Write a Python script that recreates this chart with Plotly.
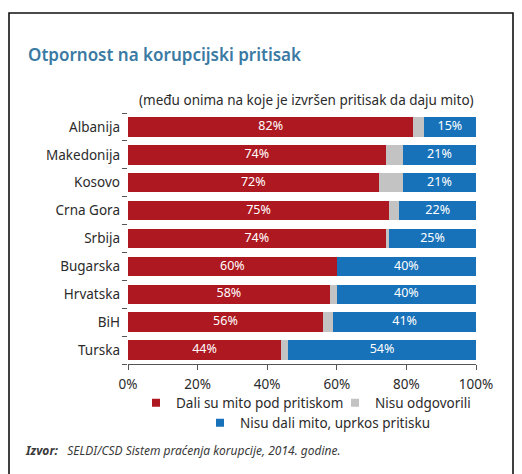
import plotly.graph_objects as go

countries = ["Albanija", "Makedonija", "Kosovo", "Crna Gora", "Srbija",
             "Bugarska", "Hrvatska", "BiH", "Turska"]
gave_bribe = [82, 74, 72, 75, 74, 60, 58, 56, 44]
no_answer = [3, 5, 7, 3, 1, 0, 2, 3, 2]
refused = [15, 21, 21, 22, 25, 40, 40, 41, 54]
series_names = ["Dali su mito pod pritiskom", "Nisu odgovorili",
                "Nisu dali mito, uprkos pritisku"]
x_ticks = [0, 20, 40, 60, 80, 100]
x_tick_labels = ["0%", "20%", "40%", "60%", "80%", "100%"]

RED = "#ae1820"
GRAY = "#c3c3c3"
BLUE = "#1872b9"
FONT = "Noto Sans"
TXT = "#2b2b2b"

# the page body has an 8px margin; figure is sized so it ends at the window edge
OFF = 8
W, H = 522, 474
ML, MR, MT, MB = 128, 46, 113, 110
PW, PH = W - ML - MR, H - MT - MB
FW, FH = W - OFF, H - OFF


def px(x):
    return (x - ML) / PW


def py(y):
    return (H - MB - y) / PH


fig = go.Figure()
for vals, color, name, lg in [(gave_bribe, RED, series_names[0], "legend"),
                              (no_answer, GRAY, series_names[1], "legend3"),
                              (refused, BLUE, series_names[2], "legend2")]:
    fig.add_trace(go.Bar(
        y=countries, x=vals, orientation="h", name=name,
        marker=dict(color=color, line=dict(width=0)), textposition="none",
        showlegend=False, legendgroup=name,
    ))
    # small square legend key for the series
    fig.add_trace(go.Scatter(
        x=[None], y=[None], mode="markers", name=name, legendgroup=name,
        marker=dict(symbol="square", size=8, color=color), legend=lg,
        hoverinfo="skip",
    ))

# value labels centred on the red and blue segments
red_mid = [g / 2 for g in gave_bribe]
blue_mid = [g + n + r / 2 for g, n, r in zip(gave_bribe, no_answer, refused)]
fig.add_trace(go.Scatter(
    x=red_mid + blue_mid, y=countries + countries, mode="text",
    text=[f"{v}%" for v in gave_bribe + refused],
    textfont=dict(color="white", size=12.5, family=FONT),
    showlegend=False, hoverinfo="skip",
))

leg = dict(orientation="h", xref="paper", yref="paper", xanchor="left", yanchor="middle",
           font=dict(size=13.5, color=TXT), bgcolor="rgba(0,0,0,0)", itemwidth=30)

fig.update_layout(
    width=FW, height=FH,
    margin=dict(l=ML - OFF, r=MR, t=MT - OFF, b=MB),
    barmode="stack", bargap=0.3,
    paper_bgcolor="white", plot_bgcolor="white",
    font=dict(family=FONT, size=13.5, color=TXT),
    xaxis=dict(range=[0, 100], tickvals=x_ticks, ticktext=x_tick_labels,
               showgrid=False, zeroline=False, showline=True, linecolor="#555555",
               linewidth=1, ticks="outside", ticklen=5, tickcolor="#555555",
               ticklabelstandoff=3,
               tickfont=dict(size=13.5, color=TXT), fixedrange=True),
    yaxis=dict(categoryorder="array", categoryarray=countries[::-1],
               showgrid=False, zeroline=False, showline=False, automargin=False,
               ticks="outside", tickson="boundaries", ticklen=5, tickcolor="#555555",
               tickfont=dict(size=13.5, color=TXT), ticksuffix="  "),
    legend=dict(leg, x=px(136), y=py(403)),
    legend3=dict(leg, x=px(335), y=py(403)),
    legend2=dict(leg, x=px(200), y=py(423)),
    annotations=[
        dict(text="Otpornost na korupcijski pritisak", xref="paper", yref="paper",
             x=px(26), y=py(55), xanchor="left", yanchor="middle", showarrow=False,
             font=dict(size=17, color="#3a7aa3", family=FONT, weight=600)),
        dict(text="(među onima na koje je izvršen pritisak da daju mito)", xref="paper",
             yref="paper", x=px(306), y=py(100), xanchor="center", yanchor="middle",
             showarrow=False, font=dict(size=13.5, color=TXT, family=FONT)),
        dict(text="<b><i>Izvor:</i></b>   <i>SELDI/CSD Sistem praćenja korupcije, 2014. godine.</i>",
             xref="paper", yref="paper", x=px(23), y=py(450), xanchor="left",
             yanchor="middle", showarrow=False,
             font=dict(size=12, color="#3a3a3a", family=FONT)),
    ],
    shapes=[
        dict(type="rect", xref="paper", yref="paper", x0=px(9), x1=px(513),
             y0=py(480), y1=py(13), line=dict(color="#111111", width=1.6),
             fillcolor="rgba(0,0,0,0)", layer="below"),
    ],
)

fig.write_html("out.html")
